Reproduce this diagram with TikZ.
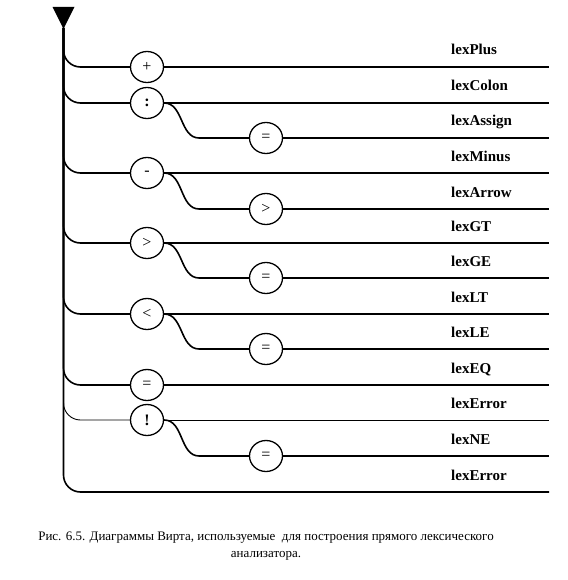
\documentclass[tikz,border=0pt]{standalone}
\usepackage{fontspec}
\setmainfont{Liberation Serif}
\usepackage{tikz}
\usetikzlibrary{shapes.geometric,positioning}

\begin{document}
\begin{tikzpicture}[
    x=1pt, y=-1pt,
    sym/.style={ellipse, draw, line width=1.3pt, minimum width=33pt, minimum height=31pt,
        inner sep=0pt, font=\fontsize{16}{16}\selectfont},
    rail/.style={line width=1.6pt},
    thinrail/.style={line width=0.9pt},
    lab/.style={anchor=base west, inner sep=0pt, font=\fontsize{15}{15}\selectfont\bfseries},
    capt/.style={align=center, font=\fontsize{13}{17}\selectfont}
]
\useasboundingbox (0,0) rectangle (567,580);

% entry arrow and trunk
\fill (52.5,7) -- (74.5,7) -- (63.5,29) -- cycle;
\coordinate (top) at (63.5,28);
\coordinate (bot) at (549,492);
\draw[rail, rounded corners=17pt] (top) -- (top |- bot) -- (bot);

% symbols
\node[sym] (plus)   at (147,67)  {+};
\node[sym] (colon)  at (147,103) {\textbf{:}};
\node[sym] (assign) at (266,138) {=};
\node[sym] (minus)  at (147,173) {-};
\node[sym] (arrow)  at (266,209) {>};
\node[sym] (gt)     at (147,243) {>};
\node[sym] (ge)     at (266,278) {=};
\node[sym] (lt)     at (147,314) {<};
\node[sym] (le)     at (266,349) {=};
\node[sym] (eq)     at (147,385) {=};
\node[sym] (bang)   at (147,420) {\textbf{!}};
\node[sym] (ne)     at (266,456) {=};

% branches off the trunk
\draw[rail, rounded corners=17pt] (plus.west) -| (top);
\draw[rail, rounded corners=17pt] (colon.west) -| (top);
\draw[rail, rounded corners=17pt] (minus.west) -| (top);
\draw[rail, rounded corners=17pt] (gt.west) -| (top);
\draw[rail, rounded corners=17pt] (lt.west) -| (top);
\draw[rail, rounded corners=17pt] (eq.west) -| (top);
\draw[thinrail, rounded corners=17pt] (bang.west) -| (top);

% second characters
\draw[rail] (colon.east) to[out=0, in=180] ++(35,35) -- (assign.west);
\draw[rail] (minus.east) to[out=0, in=180] ++(35,36) -- (arrow.west);
\draw[rail] (gt.east) to[out=0, in=180] ++(35,35) -- (ge.west);
\draw[rail] (lt.east) to[out=0, in=180] ++(35,35) -- (le.west);
\draw[rail] (bang.east) to[out=0, in=180] ++(35,36) -- (ne.west);

% exits
\draw[rail] (plus.east) -- (plus.east -| bot);
\draw[rail] (colon.east) -- (colon.east -| bot);
\draw[rail] (assign.east) -- (assign.east -| bot);
\draw[rail] (minus.east) -- (minus.east -| bot);
\draw[rail] (arrow.east) -- (arrow.east -| bot);
\draw[rail] (gt.east) -- (gt.east -| bot);
\draw[rail] (ge.east) -- (ge.east -| bot);
\draw[rail] (lt.east) -- (lt.east -| bot);
\draw[rail] (le.east) -- (le.east -| bot);
\draw[rail] (eq.east) -- (eq.east -| bot);
\draw[thinrail] (bang.east) -- (bang.east -| bot);
\draw[rail] (ne.east) -- (ne.east -| bot);

% token names
\node[lab] (lPlus)   at (451,55)  {lexPlus};
\node[lab] (lColon)  at (451,91)  {lexColon};
\node[lab] (lAssign) at (451,126) {lexAssign};
\node[lab] (lMinus)  at (451,161) {lexMinus};
\node[lab] (lArrow)  at (451,197) {lexArrow};
\node[lab] (lGT)     at (451,231) {lexGT};
\node[lab] (lGE)     at (451,266) {lexGE};
\node[lab] (lLT)     at (451,302) {lexLT};
\node[lab] (lLE)     at (451,337) {lexLE};
\node[lab] (lEQ)     at (451,373) {lexEQ};
\node[lab] (lErr)    at (451,408) {lexError};
\node[lab] (lNE)     at (451,444) {lexNE};
\node[lab] (lErrEnd) at (451,480) {lexError};

\node[capt] (caption) at (266,546)
    {Рис. 6.5. Диаграммы Вирта, используемые\ \ для построения прямого лексического\\анализатора.};
\end{tikzpicture}
\end{document}
